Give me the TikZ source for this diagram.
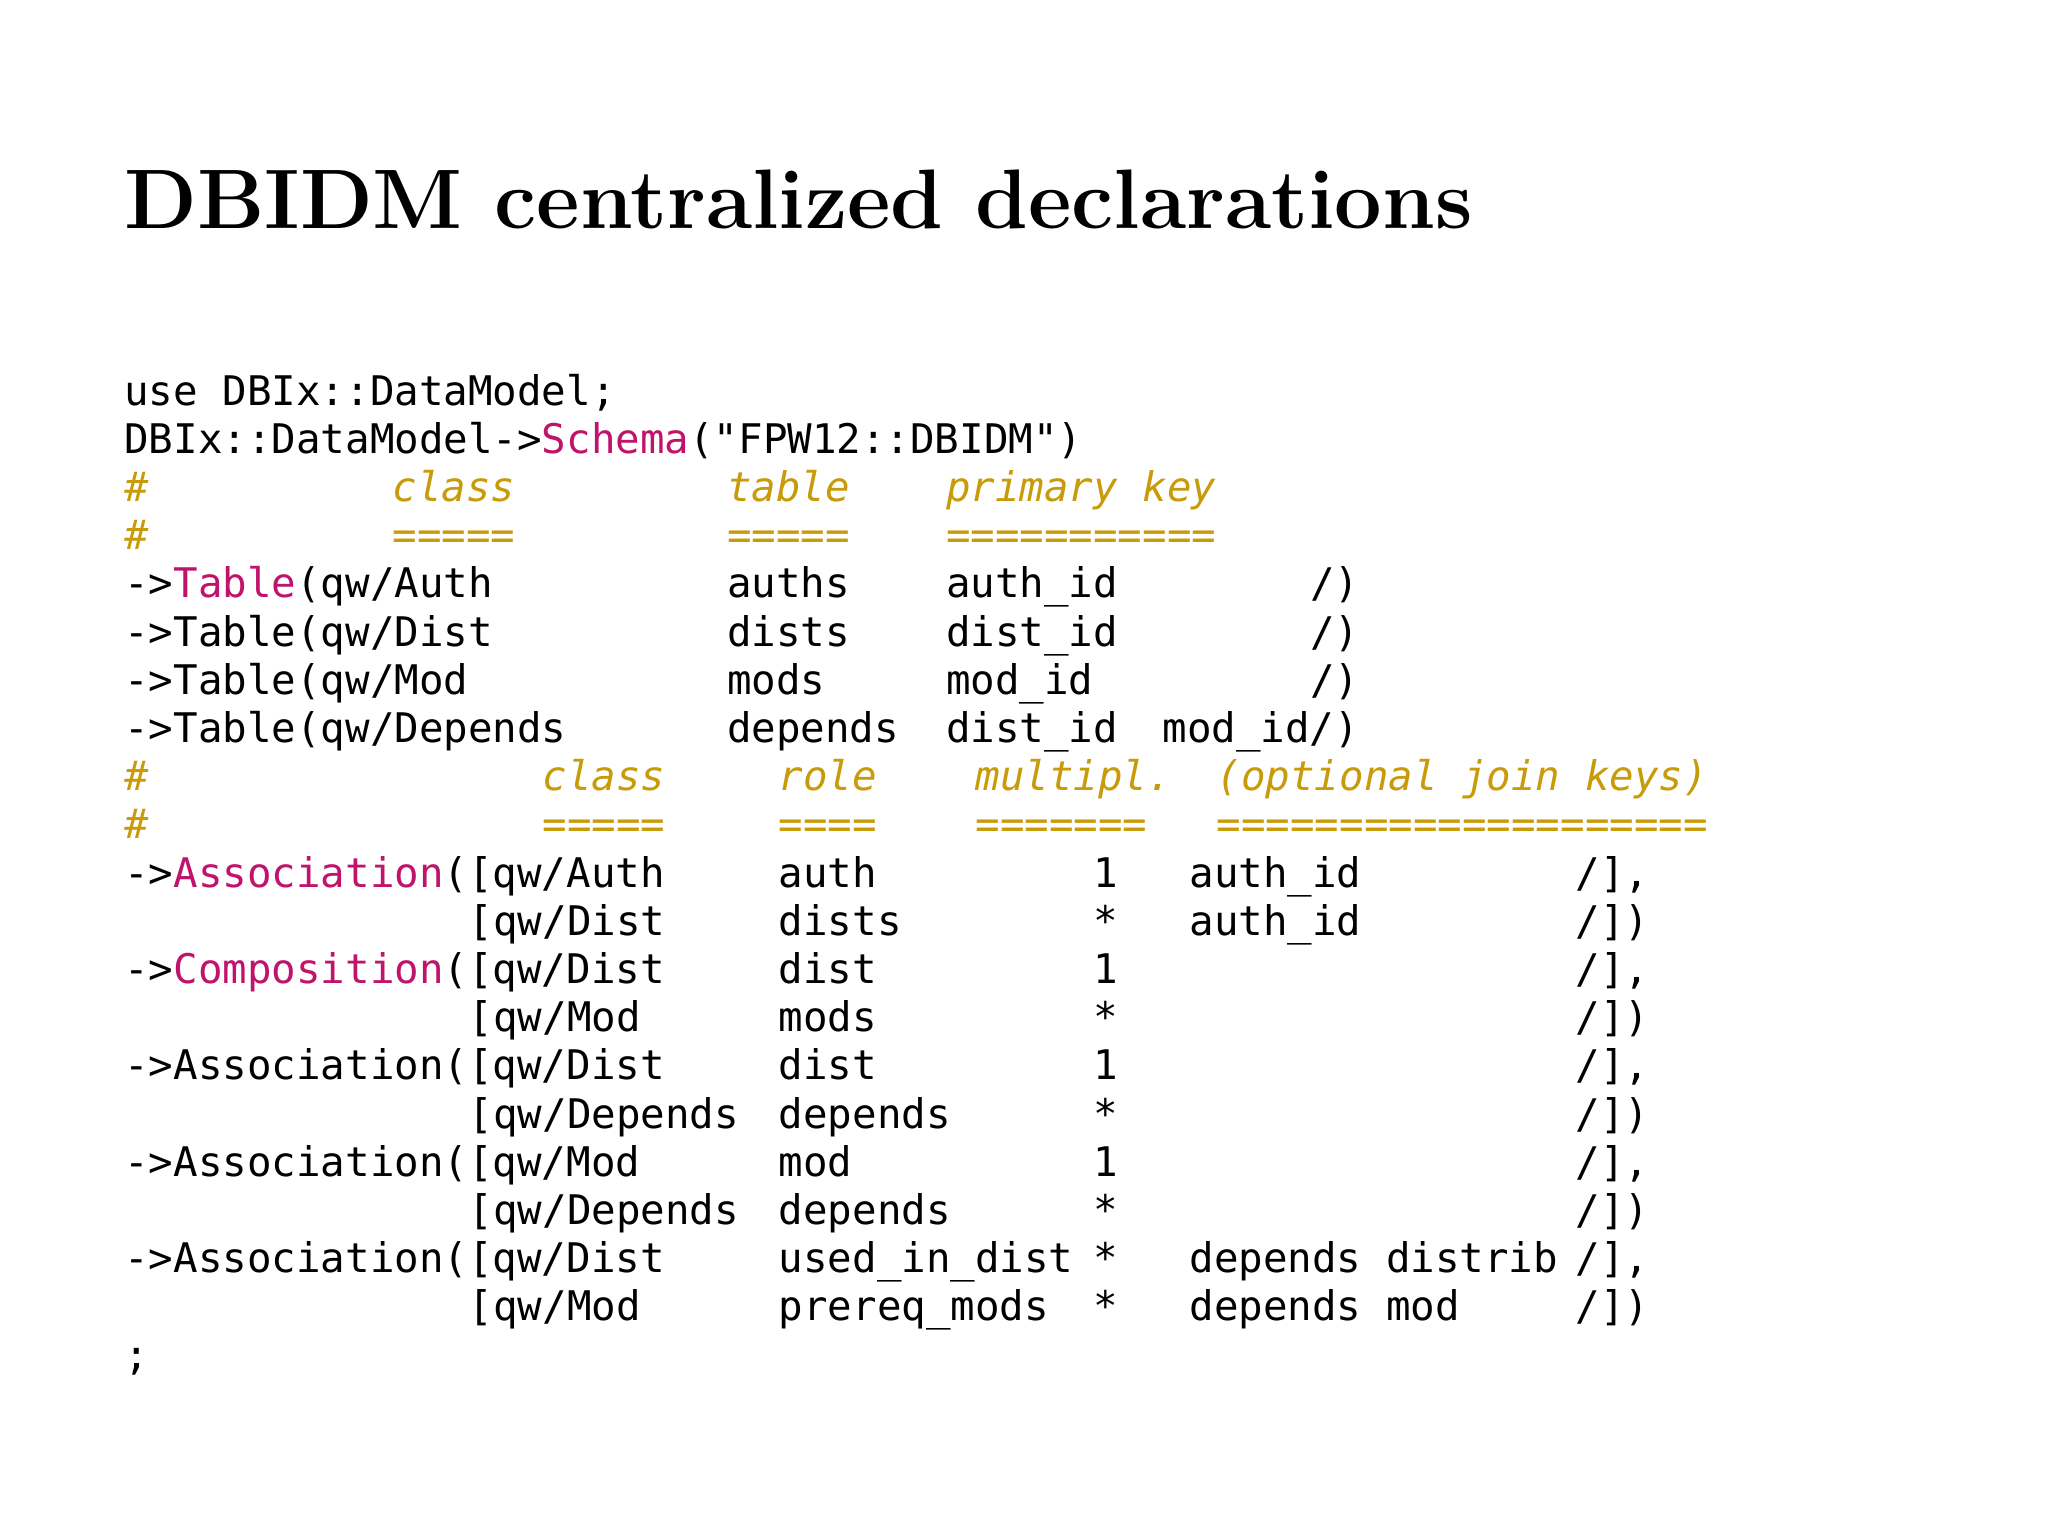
\documentclass[tikz,border=0pt]{standalone}
\usepackage{fontspec}
\setmonofont{DejaVu Sans Mono}
\definecolor{kw}{HTML}{C0136C}
\definecolor{cm}{HTML}{C89B0A}
\newcommand\tk[3]{\node[code,anchor=base west] at ({62+12.3*#1},{-202.5-24.1*#2}) {#3};}
\newcommand\cmt[3]{\node[code,cmtext,anchor=base west] at ({62+12.3*#1},{-202.5-24.1*#2}) {#3};}
\tikzset{code/.style={inner sep=0pt,font=\fontsize{20.4pt}{24pt}\ttfamily},
cmtext/.style={text=cm,font=\fontsize{20.4pt}{24pt}\ttfamily\itshape}}
\begin{document}
\begin{tikzpicture}[x=1pt,y=1pt]
\useasboundingbox (0,0) rectangle (1024,-768);
\node[anchor=base west,inner sep=0pt] (title) at (62,-114) {\resizebox{674pt}{!}{\bfseries\fontsize{40pt}{48pt}\selectfont DBIDM centralized declarations}};
\tk{0}{0}{use DBIx::DataModel;}
\tk{0}{1}{DBIx::DataModel->\textcolor{kw}{Schema}("FPW12::DBIDM")}
\cmt{0}{2}{\#}\cmt{10.9}{2}{class}\cmt{24.5}{2}{table}\cmt{33.4}{2}{primary key}
\cmt{0}{3}{\#}\cmt{10.9}{3}{=====}\cmt{24.5}{3}{=====}\cmt{33.4}{3}{===========}
\tk{0}{4}{->\textcolor{kw}{Table}(qw/Auth}\tk{24.5}{4}{auths}\tk{33.4}{4}{auth\_id}\tk{48.2}{4}{/)}
\tk{0}{5}{->Table(qw/Dist}\tk{24.5}{5}{dists}\tk{33.4}{5}{dist\_id}\tk{48.2}{5}{/)}
\tk{0}{6}{->Table(qw/Mod}\tk{24.5}{6}{mods}\tk{33.4}{6}{mod\_id}\tk{48.2}{6}{/)}
\tk{0}{7}{->Table(qw/Depends}\tk{24.5}{7}{depends}\tk{33.4}{7}{dist\_id}\tk{42.2}{7}{mod\_id/)}
\cmt{0}{8}{\#}\cmt{17}{8}{class}\cmt{26.6}{8}{role}\cmt{34.6}{8}{multipl.}\cmt{44.4}{8}{(optional join keys)}
\cmt{0}{9}{\#}\cmt{17}{9}{=====}\cmt{26.6}{9}{====}\cmt{34.6}{9}{=======}\cmt{44.4}{9}{====================}
\tk{0}{10}{->\textcolor{kw}{Association}([qw/Auth}\tk{26.6}{10}{auth}\tk{39.4}{10}{1}\tk{43.3}{10}{auth\_id}\tk{59}{10}{/],}
\tk{14}{11}{[qw/Dist}\tk{26.6}{11}{dists}\tk{39.4}{11}{*}\tk{43.3}{11}{auth\_id}\tk{59}{11}{/])}
\tk{0}{12}{->\textcolor{kw}{Composition}([qw/Dist}\tk{26.6}{12}{dist}\tk{39.4}{12}{1}\tk{59}{12}{/],}
\tk{14}{13}{[qw/Mod}\tk{26.6}{13}{mods}\tk{39.4}{13}{*}\tk{59}{13}{/])}
\tk{0}{14}{->Association([qw/Dist}\tk{26.6}{14}{dist}\tk{39.4}{14}{1}\tk{59}{14}{/],}
\tk{14}{15}{[qw/Depends}\tk{26.6}{15}{depends}\tk{39.4}{15}{*}\tk{59}{15}{/])}
\tk{0}{16}{->Association([qw/Mod}\tk{26.6}{16}{mod}\tk{39.4}{16}{1}\tk{59}{16}{/],}
\tk{14}{17}{[qw/Depends}\tk{26.6}{17}{depends}\tk{39.4}{17}{*}\tk{59}{17}{/])}
\tk{0}{18}{->Association([qw/Dist}\tk{26.6}{18}{used\_in\_dist}\tk{39.4}{18}{*}\tk{43.3}{18}{depends distrib}\tk{59}{18}{/],}
\tk{14}{19}{[qw/Mod}\tk{26.6}{19}{prereq\_mods}\tk{39.4}{19}{*}\tk{43.3}{19}{depends mod}\tk{59}{19}{/])}
\tk{0}{20}{;}
\end{tikzpicture}
\end{document}
